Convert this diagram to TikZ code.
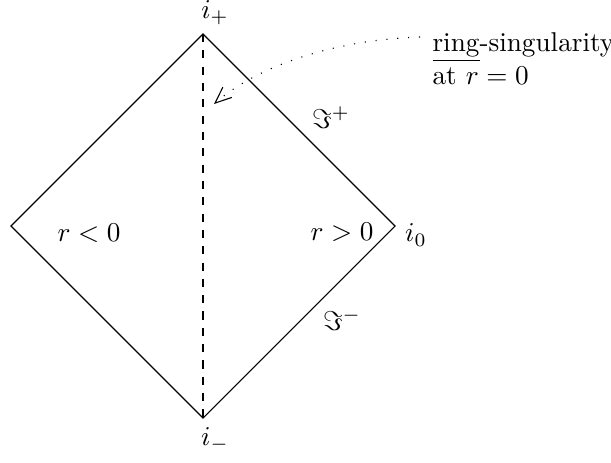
\documentclass[tikz,border=0pt]{standalone}
\usetikzlibrary{arrows.meta}
\begin{document}
\begin{tikzpicture}[x=0.3676pt,y=-0.3676pt,
  edge/.style={line width=0.4pt},
  lbl/.style={inner sep=0pt},
  pointer/.style={dash pattern=on 0.4pt off 3.6pt,-{Straight Barb[length=6pt,width=5pt]}}]
\useasboundingbox (0,0) rectangle (611,462);
\coordinate (T) at (203,34);
\coordinate (B) at (203,418);
\coordinate (L) at (11,226);
\coordinate (R) at (395,226);
\draw[edge] (T) -- (R) -- (B) -- (L) -- cycle;
\draw[edge,dashed] (T) -- (B);
\node[lbl] (ip) at (215,13) {$i_+$};
\node[lbl] (im) at (215,440) {$i_-$};
\node[lbl] (io) at (416,235) {$i_0$};
\node[lbl] (rn) at (89,233) {$r<0$};
\node[lbl] (rp) at (342,232) {$r>0$};
\node[lbl] (sp) at (331,118) {$\Im^+$};
\node[lbl] (sm) at (342,320) {$\Im^-$};
\node[lbl,anchor=north west,align=left] (txt) at (432,32) {\underline{ring}-singularity\\at $r=0$};
\coordinate (tip) at (214,104);
\draw[pointer] (420,37) .. controls (330,40) and (255,68) .. (tip);
\end{tikzpicture}
\end{document}
